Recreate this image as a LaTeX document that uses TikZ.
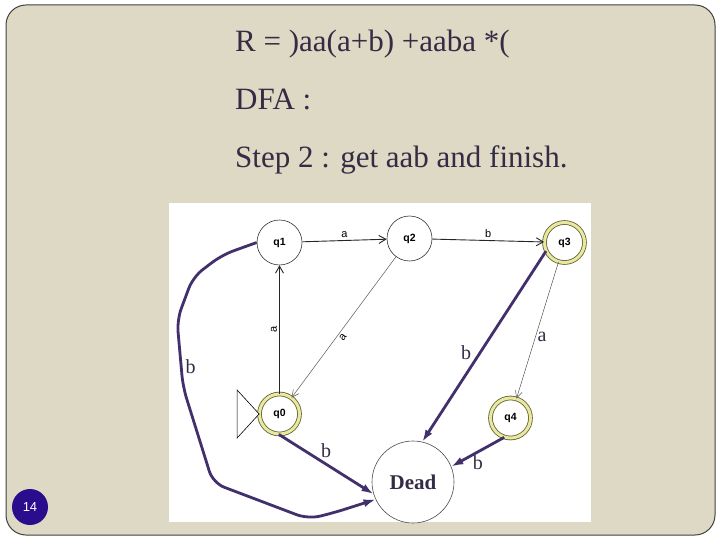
\documentclass[tikz,border=0pt]{standalone}
\usepackage{fontspec}
\setmainfont{Liberation Serif}
\setsansfont{Liberation Sans}
\usepackage{tikz}
\usetikzlibrary{positioning,arrows.meta}
\definecolor{slidetan}{RGB}{221,217,196}
\definecolor{framegray}{RGB}{64,64,64}
\definecolor{inkpurple}{RGB}{52,44,68}
\definecolor{deadpurple}{RGB}{66,48,108}
\definecolor{ringyellow}{RGB}{232,232,160}
\definecolor{ringolive}{RGB}{96,96,48}
\definecolor{numberblue}{RGB}{42,12,140}
\tikzset{
  state-node/.style={circle, draw=black!80, line width=0.6pt, fill=white,
    minimum size=45pt, inner sep=0pt, font=\sffamily\bfseries\fontsize{10.5}{12}\selectfont},
  accept-node/.style={state-node, draw=ringolive, line width=0.8pt,
    double=ringyellow, double distance=3pt, minimum size=40pt},
  dead-node/.style={circle, draw=black!70, line width=0.6pt, fill=white,
    minimum size=82pt, inner sep=0pt, font=\bfseries\fontsize{21}{24}\selectfont, text=inkpurple},
  jflap-arrow/.style={-{Straight Barb[length=7pt,width=8pt]}, line width=0.9pt, draw=black!85},
  faint-arrow/.style={-{Straight Barb[length=7pt,width=7pt]}, line width=0.5pt, draw=black!65},
  dead-arrow/.style={-{Latex[length=12pt,width=8pt]}, line width=2.8pt, draw=deadpurple},
  sans-label/.style={font=\sffamily\fontsize{11}{12}\selectfont, inner sep=2pt},
  serif-label/.style={font=\fontsize{20}{21}\selectfont, text=inkpurple, inner sep=2pt},
  title-text/.style={font=\fontsize{31}{34}\selectfont, text=inkpurple, anchor=base west, inner sep=0pt}
}

\begin{document}
\begin{tikzpicture}[x=1pt, y=-1pt]
\useasboundingbox (0,0) rectangle (720,540);
% slide
\fill[white] (0,0) rectangle (720,540);
\draw[framegray, line width=1pt, fill=slidetan, rounded corners=20pt] (6,5) rectangle (715,535);
\foreach \ty/\txt/\i in {52/{R = )aa(a+b) +aaba *(}/1, 110/{DFA :}/2, 168/{Step 2 : get aab and finish.}/3}{
  \node[title-text] (line\i) at (235,\ty) {\txt};
}
% diagram
\fill[white] (169,203) rectangle (591,522);
\node[state-node] (q1) at (279.5,242.5) {q1};
\node[state-node] (q2) at (409.5,238.5) {q2};
\node[accept-node] (q3) at (564.5,242.5) {q3};
\node[accept-node] (q0) at (279.5,414) {q0};
\node[accept-node] (q4) at (510.5,418) {q4};
\node[dead-node] (dead) at (413,482) {Dead};
\draw[line width=0.6pt, fill=white] (q0.west) -- ++(-22,-24) -- ++(0,48) -- cycle;

\draw[jflap-arrow] (q1) -- node[sans-label, above] {a} (q2);
\draw[jflap-arrow] (q2) -- node[sans-label, above] {b} (q3);
\draw[jflap-arrow] (q0) -- node[sans-label, sloped, above] {a} (q1);
\draw[faint-arrow] (q2) -- node[sans-label, sloped, below, pos=0.55] {a} (q0);
\draw[faint-arrow] (q3) -- node[serif-label, right, pos=0.55] {a} (q4);

\draw[dead-arrow] (q3.205) -- node[serif-label, left=6pt, pos=0.53] {b} (dead.77);
\draw[dead-arrow] (q4.252) -- node[serif-label, below] {b} (dead.22);
\draw[dead-arrow] (q0.268) -- node[serif-label, above=3pt] {b} (dead.197);
\draw[dead-arrow, rounded corners=12pt] (q1.west) -- (222,255) -- (193,277) -- (177,320)
  -- node[serif-label, right=1pt, pos=0.7] {b} (183,387) -- (213,483) -- (308,519) -- (333,513) -- (dead.205);

\node[circle, fill=numberblue, minimum size=36pt, inner sep=0pt, text=white,
  font=\sffamily\fontsize{13}{14}\selectfont] (pagenum) at (30,507) {14};
\end{tikzpicture}
\end{document}
